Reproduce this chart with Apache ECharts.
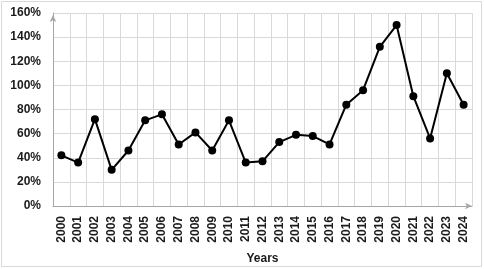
<!DOCTYPE html>
<html>
<head>
<meta charset="utf-8">
<script src="https://cdn.jsdelivr.net/npm/echarts@6/dist/echarts.min.js"></script>
<style>
  html, body { margin: 0; padding: 0; background: #fff; }
  #main { width: 484px; height: 269px; }
</style>
</head>
<body>
<div id="main"></div>
<script>
var years = ['2000', '2001', '2002', '2003', '2004', '2005', '2006', '2007', '2008', '2009',
	'2010', '2011', '2012', '2013', '2014', '2015', '2016', '2017', '2018', '2019',
	'2020', '2021', '2022', '2023', '2024'];
var values = [42, 36, 72, 30, 46, 71, 76, 51, 61, 46,
	71, 36, 37, 53, 59, 58, 51, 84, 96, 132,
	150, 91, 56, 110, 84];
var yTicks = { min: 0, max: 160, step: 20 };

var myChart = echarts.init(document.getElementById('main'));

var option = {
	backgroundColor: '#fff',
	animation: false,
	textStyle: {
		fontFamily: 'Liberation Sans, Arial, sans-serif'
	},
	graphic: [{
		type: 'rect',
		shape: { x: 1.5, y: 1.5, width: 480, height: 265 },
		style: { fill: 'none', stroke: '#d9d9d9', lineWidth: 1 },
		silent: true
	}],
	grid: {
		left: 53,
		right: 12,
		top: 13,
		bottom: 63,
		outerBoundsMode: 'none',
		containLabel: false
	},
	xAxis: {
		type: 'category',
		data: years,
		boundaryGap: true,
		name: 'Years',
		nameLocation: 'middle',
		nameGap: 47,
		nameTextStyle: {
			color: '#1a1a1a',
			fontSize: 12,
			fontWeight: 'bold'
		},
		axisLine: {
			lineStyle: { color: '#a6a6a6', width: 1 },
			symbol: ['none', 'arrow'],
			symbolSize: [5, 7],
			symbolOffset: [0, 0]
		},
		axisTick: { show: false },
		axisLabel: {
			rotate: 90,
			interval: 0,
			margin: 10,
			color: '#1a1a1a',
			fontSize: 12,
			fontWeight: 'bold'
		},
		splitLine: {
			show: true,
			interval: 0,
			lineStyle: { color: '#d9d9d9', width: 1 }
		}
	},
	yAxis: {
		type: 'value',
		min: yTicks.min,
		max: yTicks.max,
		interval: yTicks.step,
		axisLine: {
			show: true,
			lineStyle: { color: '#a6a6a6', width: 1 },
			symbol: ['none', 'arrow'],
			symbolSize: [5, 7],
			symbolOffset: [0, -2]
		},
		axisTick: { show: false },
		axisLabel: {
			formatter: '{value}%',
			margin: 12,
			color: '#1a1a1a',
			fontSize: 12,
			fontWeight: 'bold'
		},
		splitLine: {
			show: true,
			lineStyle: { color: '#d9d9d9', width: 1 }
		}
	},
	series: [{
		type: 'line',
		data: values,
		symbol: 'circle',
		symbolSize: 8,
		itemStyle: { color: '#000' },
		lineStyle: { color: '#000', width: 2 }
	}]
};
myChart.setOption(option);
</script>
</body>
</html>
